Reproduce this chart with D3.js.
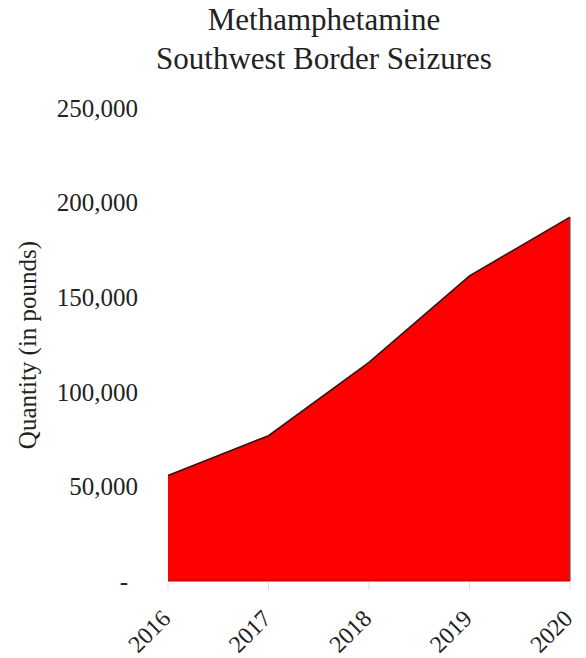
<!DOCTYPE html>
<html>
<head>
<meta charset="utf-8">
<script src="https://cdn.jsdelivr.net/npm/d3@7"></script>
<style>
  body { margin: 0; background: #fff; }
  text { font-family: "Liberation Serif", "Times New Roman", serif; fill: #222; }
</style>
</head>
<body>
<svg id="svg" width="586" height="658"></svg>
<script>
// data
var years = ["2016", "2017", "2018", "2019", "2020"]
var pounds = [55800, 76800, 115500, 161300, 192300]
var yTicks = [0, 50000, 100000, 150000, 200000, 250000]

var svg = d3.select("#svg")
var width = 586, height = 658

var x = d3.scalePoint().domain(years).range([168, 570])
var y = d3.scaleLinear().domain([0, 250000]).range([581, 108])

var rows = years.map((d, i) => ({year: d, value: pounds[i]}))

// title
var title = svg.append("text")
  .attr("text-anchor", "middle")
  .attr("x", 324)
  .style("font-size", "31px")
title.append("tspan").attr("x", 324).attr("y", 30).text("Methamphetamine")
title.append("tspan").attr("x", 324).attr("y", 69).text("Southwest Border Seizures")

// y axis labels (no line)
var fmt = d3.format(",")
svg.append("g").selectAll("text")
  .data(yTicks)
  .enter().append("text")
  .attr("x", d => d === 0 ? 128 : 138)
  .attr("y", d => y(d))
  .attr("dy", "0.35em")
  .attr("text-anchor", "end")
  .style("font-size", "25px")
  .text(d => d === 0 ? "-" : fmt(d))

svg.append("text")
  .attr("transform", "translate(36," + 345 + ") rotate(-90)")
  .attr("text-anchor", "middle")
  .style("font-size", "25px")
  .text("Quantity (in pounds)")

// area
var area = d3.area()
  .x(d => x(d.year))
  .y0(y(0))
  .y1(d => y(d.value))

svg.append("path")
  .datum(rows)
  .attr("d", area)
  .attr("fill", "#ff0000")

var line = d3.line()
  .x(d => x(d.year))
  .y(d => y(d.value))

svg.append("path")
  .datum(rows)
  .attr("d", line)
  .attr("fill", "none")
  .attr("stroke", "#3a1010")
  .attr("stroke-width", 1.6)

// right edge and bottom edge
svg.append("line")
  .attr("x1", x("2020")).attr("x2", x("2020"))
  .attr("y1", y(pounds[4])).attr("y2", y(0))
  .attr("stroke", "#555").attr("stroke-width", 1.2)

svg.append("line")
  .attr("x1", x("2016")).attr("x2", x("2020"))
  .attr("y1", y(0)).attr("y2", y(0))
  .attr("stroke", "#b00000").attr("stroke-width", 1)

// x axis ticks and rotated labels
var xg = svg.append("g")
xg.selectAll("line")
  .data(years)
  .enter().append("line")
  .attr("x1", d => x(d)).attr("x2", d => x(d))
  .attr("y1", y(0) + 1).attr("y2", y(0) + 9)
  .attr("stroke", "#ddd")

xg.selectAll("text")
  .data(years)
  .enter().append("text")
  .attr("text-anchor", "end")
  .attr("transform", d => "translate(" + (x(d) - 2) + "," + (y(0) + 33) + ") rotate(-45)")
  .attr("dy", "0.35em")
  .style("font-size", "24px")
  .text(d => d)
</script>
</body>
</html>
